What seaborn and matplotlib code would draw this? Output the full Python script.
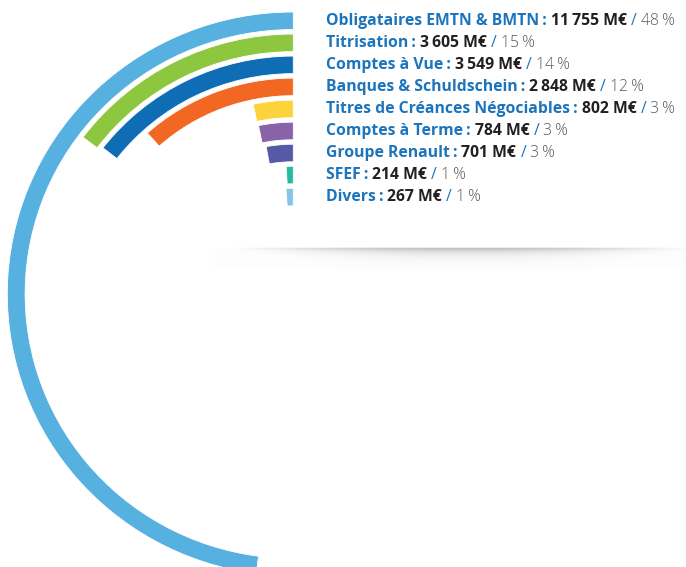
import numpy as np
import matplotlib
matplotlib.use("Agg")
import matplotlib.pyplot as plt
import seaborn as sns

# ---- data ----
categories = ["Obligataires EMTN & BMTN", "Titrisation", "Comptes à Vue",
              "Banques & Schuldschein", "Titres de Créances Négociables",
              "Comptes à Terme", "Groupe Renault", "SFEF", "Divers"]
amounts = [11755, 3605, 3549, 2848, 802, 784, 701, 214, 267]
amount_labels = ["11\u2009755", "3\u2009605", "3\u2009549", "2\u2009848", "802", "784", "701", "214", "267"]
percent_labels = ["48", "15", "14", "12", "3", "3", "3", "1", "1"]
colors = ["#56B0E0", "#8DC63F", "#0F6DB5", "#F26722", "#FDD33B",
          "#8A62A8", "#565AA6", "#26BBA0", "#84C4EC"]

sns.set_theme(style="white")
plt.rcParams['font.family'] = ['Open Sans', 'DejaVu Sans']
palette = sns.color_palette(colors)

W, H = 686, 567
fig = plt.figure(figsize=(W / 100, H / 100), dpi=100)
fig.patch.set_facecolor("white")

# ---- radial bars ----
cx, cy = 293.3, 294.0
R = 290.0
sy = 282.0 / 286.0
ax = fig.add_axes([(cx - R) / W, (H - cy - R * sy) / H, 2 * R / W, 2 * R * sy / H],
                  projection='polar')
ax.set_aspect('auto')
ax.set_theta_zero_location('N')
ax.set_theta_direction(1)
ax.set_ylim(0, R)
ax.set_axis_off()

total = float(sum(amounts))
thetas = 2 * np.pi * np.array(amounts) / total
n = len(amounts)
outer = 286.0 - 22.35 * np.arange(n)
thick = 17.8
ax.bar(np.zeros(n), thick, width=thetas, bottom=outer - thick, align='edge',
       color=palette, edgecolor='white', linewidth=0.6)

# ---- shadow line ----
sax = fig.add_axes([215 / W, 1 - 272 / H, (W - 215) / W, 27 / H])
sax.set_axis_off()
xs = np.linspace(215, W, 500)
ys = np.linspace(245, 272, 60)
X, Y = np.meshgrid(xs, ys)
t = np.clip(1 - ((X - 462) / 235.0) ** 2, 0, None)
alpha = np.where(Y >= 248.5, 0.5 * t ** 1.1 * np.exp(-(Y - 248.5) / (1.0 + 4.0 * t)), 0.0)
alpha += np.where((Y >= 249) & (Y <= 270), 0.012, 0.0)
img = np.zeros(X.shape + (4,))
img[..., :3] = 0.45
img[..., 3] = np.clip(alpha, 0, 1)
sax.imshow(img, aspect='auto', extent=(0, 1, 0, 1), interpolation='bilinear')

# ---- labels ----
tax = fig.add_axes([0, 0, 1, 1])
tax.set_axis_off()
tax.set_xlim(0, W)
tax.set_ylim(H, 0)

blue = "#1C75BC"
dark = "#231F20"
grey = "#58595B"
fs = 11.3
for k in range(n):
    yk = 21 + 22 * k
    t1 = tax.text(326, yk, categories[k] + "\u2009:", fontsize=fs, fontweight='bold',
                  color=blue, va='center', ha='left')
    t2 = tax.annotate(amount_labels[k] + " M€", xy=(1, 0), xycoords=t1,
                      xytext=(2.8, 0), textcoords='offset points',
                      fontsize=fs, fontweight='bold', color=dark, va='bottom', ha='left')
    t3 = tax.annotate("/", xy=(1, 0), xycoords=t2, xytext=(3.0, 0), textcoords='offset points',
                      fontsize=fs, fontweight='normal', color=blue, va='bottom', ha='left')
    tax.annotate(percent_labels[k] + "\u2009%", xy=(1, 0), xycoords=t3, xytext=(3.0, 0),
                 textcoords='offset points', fontsize=fs, fontweight='light',
                 color=grey, va='bottom', ha='left')

fig.savefig("out.png", dpi=100, facecolor="white")
